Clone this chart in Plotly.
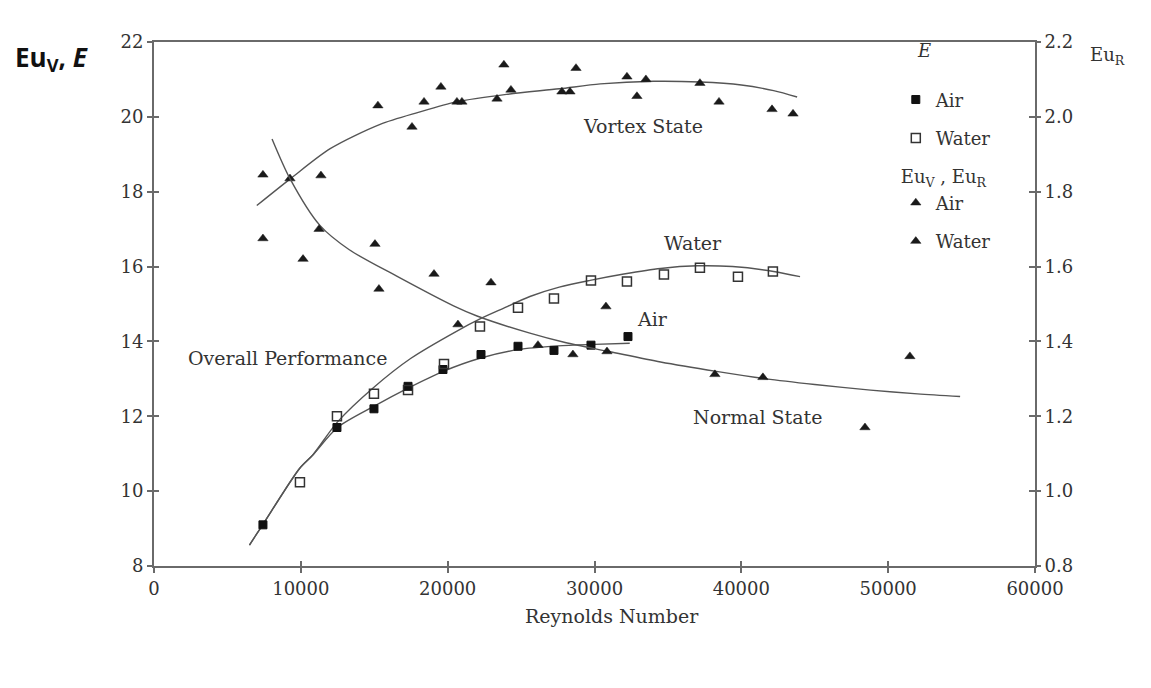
import plotly.graph_objects as go

# ---- measured data ----
# Vortex state Euler number Eu_V (left axis)
re_vortex_air = [7420, 11370, 15250, 17570, 19540, 23830, 28740, 32890, 38480, 42090, 43520]
euv_air = [18.45, 18.43, 20.3, 19.73, 20.8, 21.39, 21.3, 20.55, 20.4, 20.2, 20.08]
re_vortex_water = [9260, 18390, 20630, 20970, 23360, 24310, 27780, 28330, 32210, 33500, 37180]
euv_water = [18.35, 20.4, 20.4, 20.4, 20.48, 20.72, 20.67, 20.67, 21.07, 21.0, 20.9]

# Normal state Euler number Eu_R (right axis)
re_normal_air = [7420, 10150, 11240, 15050, 15320, 19070, 22950, 30780, 38200, 41470, 48420]
eur_air = [1.675, 1.62, 1.70, 1.66, 1.54, 1.58, 1.557, 1.493, 1.312, 1.304, 1.17]
re_normal_water = [20700, 26150, 28530, 30850, 51480]
eur_water = [1.445, 1.39, 1.365, 1.373, 1.36]

# Overall performance E
re_e_air = [7420, 12460, 14980, 17300, 19680, 22270, 24790, 27240, 29760, 32280]
e_air = [9.1, 11.7, 12.2, 12.8, 13.25, 13.65, 13.87, 13.76, 13.9, 14.13]
re_e_water = [9940, 12460, 14980, 17300, 19750, 22200, 24790, 27240, 29760, 32210, 34730, 37180, 39770, 42150]
e_water = [10.24, 12.0, 12.6, 12.7, 13.4, 14.4, 14.9, 15.15, 15.63, 15.6, 15.79, 15.97, 15.73, 15.87]

# Fitted curves
fit_vortex_re = [7000, 9300, 12000, 15400, 18000, 20600, 24000, 27600, 30400, 34000, 37200, 40000, 42200, 43800]
fit_vortex = [17.63, 18.35, 19.15, 19.8, 20.12, 20.4, 20.6, 20.75, 20.88, 20.95, 20.93, 20.85, 20.7, 20.53]

fit_normal_re = [8040, 9260, 11300, 13300, 16500, 20400, 22000, 25600, 28000, 31000, 34500, 38300, 41700, 45000, 48800, 52000, 54900]
fit_normal = [1.941, 1.835, 1.71, 1.645, 1.575, 1.495, 1.468, 1.422, 1.397, 1.373, 1.345, 1.32, 1.30, 1.285, 1.27, 1.26, 1.253]

fit_e_water_re = [6500, 7400, 9900, 10800, 12500, 14900, 17500, 20600, 22200, 23600, 25600, 27600, 29700, 32000, 34500, 37000, 39400, 42200, 44000]
fit_e_water = [8.56, 9.1, 10.6, 10.96, 11.85, 12.75, 13.55, 14.27, 14.6, 14.85, 15.2, 15.45, 15.63, 15.8, 15.95, 16.02, 16.0, 15.87, 15.73]

fit_e_air_re = [6500, 7400, 9900, 10800, 12500, 15000, 17300, 19700, 22200, 24800, 27500, 30000, 32400]
fit_e_air = [8.56, 9.1, 10.6, 10.96, 11.7, 12.27, 12.75, 13.2, 13.55, 13.78, 13.88, 13.92, 13.95]

x_ticks = [0, 10000, 20000, 30000, 40000, 50000, 60000]
y_left_ticks = [8, 10, 12, 14, 16, 18, 20, 22]
y_right_ticks = [0.8, 1.0, 1.2, 1.4, 1.6, 1.8, 2.0, 2.2]

SERIF = "DejaVu Serif"
INK = "#333333"
LINE = "#555555"
AXIS = "#6a6a6a"

fig = go.Figure()

curve_style = dict(mode="lines", line=dict(color=LINE, width=1.4, shape="spline", smoothing=0.8),
                   showlegend=False, hoverinfo="skip")
fig.add_trace(go.Scatter(x=fit_vortex_re, y=fit_vortex, yaxis="y", **curve_style))
fig.add_trace(go.Scatter(x=fit_normal_re, y=fit_normal, yaxis="y2", **curve_style))
fig.add_trace(go.Scatter(x=fit_e_water_re, y=fit_e_water, yaxis="y", **curve_style))
fig.add_trace(go.Scatter(x=fit_e_air_re, y=fit_e_air, yaxis="y", **curve_style))

sq_filled = dict(symbol="square", size=8, color="#111111", line=dict(color="#111111", width=1))
sq_open = dict(symbol="square-open", size=9, color="#333333", line=dict(width=1.5))
tri = dict(symbol="triangle-up", size=9, color="#1a1a1a", line=dict(color="#1a1a1a", width=0.5))

fig.add_trace(go.Scatter(x=re_e_air, y=e_air, mode="markers", marker=sq_filled, name="Air",
                         legendgroup="e_air",
                         legendgrouptitle=dict(text="&nbsp;&nbsp;&nbsp;<i>E</i><br> ")))
fig.add_trace(go.Scatter(x=re_e_water, y=e_water, mode="markers", marker=sq_open, name="Water",
                         legendgroup="e_water"))
fig.add_trace(go.Scatter(x=re_vortex_air, y=euv_air, mode="markers", marker=tri, name="Air",
                         legendgroup="eu_air",
                         legendgrouptitle=dict(text="Eu<sub>V</sub> , Eu<sub>R</sub>")))
fig.add_trace(go.Scatter(x=re_normal_air, y=eur_air, yaxis="y2", mode="markers", marker=tri,
                         name="Air", legendgroup="eu_air", showlegend=False))
fig.add_trace(go.Scatter(x=re_vortex_water, y=euv_water, mode="markers", marker=tri, name="Water",
                         legendgroup="eu_water"))
fig.add_trace(go.Scatter(x=re_normal_water, y=eur_water, yaxis="y2", mode="markers", marker=tri,
                         name="Water", legendgroup="eu_water", showlegend=False))

# carriers for the inward half of the crossing tick marks
fig.add_trace(go.Scatter(x=[None], y=[None], xaxis="x3", yaxis="y3", showlegend=False, hoverinfo="skip"))
fig.add_trace(go.Scatter(x=[None], y=[None], xaxis="x", yaxis="y4", showlegend=False, hoverinfo="skip"))

tickfont = dict(family=SERIF, size=18, color=INK)
common = dict(showgrid=False, zeroline=False)

fig.update_layout(
    width=1151, height=688,
    margin=dict(l=154, r=116, t=42, b=122),
    paper_bgcolor="white", plot_bgcolor="white",
    font=dict(family=SERIF, color=INK),
    xaxis=dict(range=[0, 60000], tickvals=x_ticks, ticktext=[str(v) for v in x_ticks],
               ticks="outside", ticklen=5, tickwidth=1.5, tickcolor=AXIS,
               showline=True, linecolor=AXIS, linewidth=2, mirror=True,
               tickfont=tickfont, **common),
    xaxis3=dict(range=[0, 60000], overlaying="x", anchor="y", side="bottom", tickvals=x_ticks,
                ticks="inside", ticklen=5, tickwidth=1.5, tickcolor=AXIS,
                showticklabels=False, showline=False, **common),
    yaxis=dict(range=[8, 22], tickvals=y_left_ticks, ticktext=[str(v) for v in y_left_ticks],
               ticks="outside", ticklen=5, tickwidth=1.5, tickcolor=AXIS,
               showline=True, linecolor=AXIS, linewidth=2,
               tickfont=tickfont, **common),
    yaxis3=dict(range=[8, 22], overlaying="y", anchor="x", side="left", tickvals=y_left_ticks,
                ticks="inside", ticklen=5, tickwidth=1.5, tickcolor=AXIS,
                showticklabels=False, showline=False, **common),
    yaxis2=dict(range=[0.8, 2.2], overlaying="y", side="right", anchor="x",
                tickvals=y_right_ticks, ticktext=[f"{v:.1f}" for v in y_right_ticks],
                ticks="outside", ticklen=4, tickwidth=1.5, tickcolor=AXIS,
                showline=True, linecolor=AXIS, linewidth=2,
                tickfont=tickfont, **common),
    yaxis4=dict(range=[0.8, 2.2], overlaying="y", side="right", anchor="x",
                tickvals=y_right_ticks, ticks="inside", ticklen=6, tickwidth=1.5, tickcolor=AXIS,
                showticklabels=False, showline=False, **common),
    legend=dict(x=0.842, y=1.02, xanchor="left", yanchor="top",
                bgcolor="rgba(0,0,0,0)", font=dict(family=SERIF, size=18, color=INK),
                grouptitlefont=dict(family=SERIF, size=18, color=INK),
                tracegroupgap=12, itemwidth=30),
)

ann_font = dict(family=SERIF, size=19, color=INK)
fig.add_annotation(x=33300, y=19.76, text="Vortex State", showarrow=False, font=ann_font)
fig.add_annotation(x=36700, y=16.64, text="Water", showarrow=False, font=ann_font)
fig.add_annotation(x=33980, y=14.59, text="Air", showarrow=False, font=ann_font)
fig.add_annotation(x=9060, y=13.55, text="Overall Performance", showarrow=False, font=ann_font)
fig.add_annotation(x=41130, y=11.97, text="Normal State", showarrow=False, font=ann_font)

# x-axis title, set slightly right of the axis centre
fig.add_annotation(xref="paper", yref="paper", x=0.52, y=-0.096, yanchor="middle",
                   text="Reynolds Number", showarrow=False,
                   font=dict(family=SERIF, size=19, color=INK))

# y-axis titles placed at the top corners
fig.add_annotation(xref="paper", yref="paper", x=-0.16, y=1.01, xanchor="left", yanchor="top",
                   text="<b>Eu<sub>V</sub>,&nbsp;<i>E</i></b>",
                   showarrow=False, font=dict(family="Open Sans", size=26, color="#111111"))
fig.add_annotation(xref="paper", yref="paper", x=1.06, y=1.0, xanchor="left", yanchor="top",
                   text="Eu<sub>R</sub>",
                   showarrow=False, font=dict(family=SERIF, size=18, color=INK))

fig.write_html("out.html")
